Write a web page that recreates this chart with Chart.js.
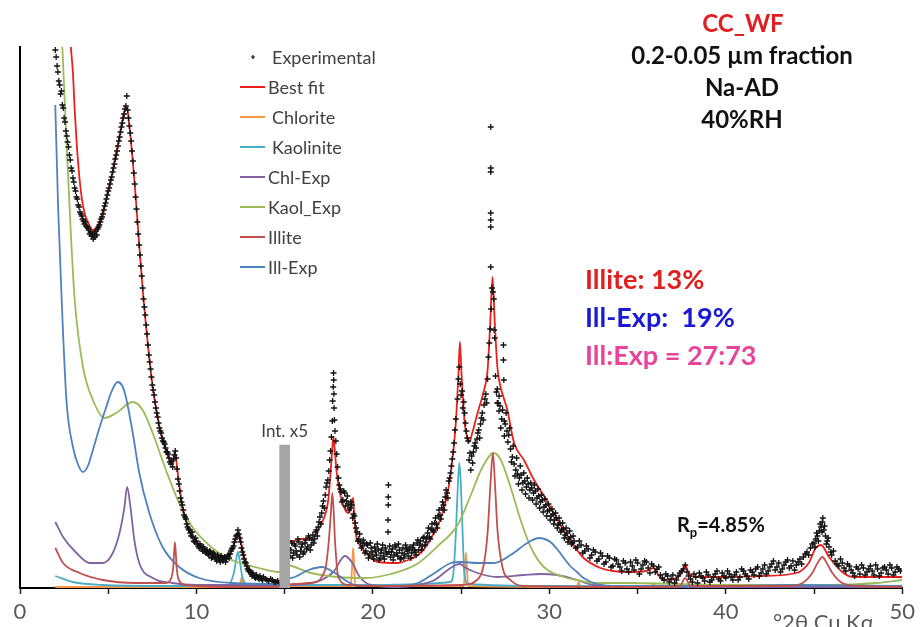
<!DOCTYPE html>
<html>
<head>
<meta charset="utf-8">
<script src="https://cdn.jsdelivr.net/npm/chart.js@4.4.1/dist/chart.umd.min.js"></script>
<style>
  html, body { margin: 0; padding: 0; background: #fff; }
  canvas { display: block; }
</style>
</head>
<body>
<canvas id="xrd"></canvas>
<script>
// [°2θ, intensity] (arbitrary units, part right of 15° is shown x5)
const experimental = [
  [2.00,538],[2.05,531],[2.10,522],[2.15,516],[2.20,507],[2.25,503],[2.30,494],[2.35,497],[2.40,483],[2.45,480],
  [2.50,470],[2.55,466],[2.60,457],[2.65,452],[2.70,446],[2.75,441],[2.80,433],[2.85,428],[2.90,420],[2.95,417],
  [3.00,410],[3.05,406],[3.10,400],[3.15,397],[3.20,391],[3.25,389],[3.30,383],[3.35,381],[3.40,376],[3.50,372],
  [3.60,367],[3.70,366],[3.80,361],[3.90,358],[4.00,356],[4.05,352],[4.10,354],[4.15,349],[4.20,355],[4.25,351],
  [4.30,357],[4.40,359],[4.50,363],[4.60,369],[4.70,374],[4.80,382],[4.90,389],[5.00,397],[5.10,404],[5.20,411],
  [5.30,420],[5.40,429],[5.50,437],[5.60,447],[5.70,456],[5.80,465],[5.90,474],[6.00,482],[6.05,492],[6.10,478],
  [6.15,470],[6.20,462],[6.30,447],[6.40,427],[6.50,404],[6.60,379],[6.70,354],[6.80,333],[6.90,312],[7.00,289],
  [7.10,273],[7.20,254],[7.30,233],[7.40,219],[7.50,203],[7.60,193],[7.70,180],[7.80,171],[7.90,160],[8.00,155],
  [8.10,147],[8.20,144],[8.30,136],[8.40,134],[8.50,126],[8.55,124],[8.60,127],[8.65,121],[8.70,129],[8.75,133],
  [8.80,137],[8.85,130],[8.90,119],[8.95,109],[9.00,104],[9.10,90],[9.20,83],[9.30,73],[9.40,69],[9.50,61],
  [9.60,58],[9.70,52],[9.80,51],[9.90,46],[10.0,47],[10.1,42],[10.2,44],[10.3,39],[10.4,41],[10.5,36],
  [10.6,38],[10.7,33],[10.8,36],[10.9,31],[11.0,34],[11.1,29],[11.2,33],[11.3,28],[11.4,32],[11.5,27],
  [11.6,31],[11.7,29],[11.8,33],[11.9,34],[12.0,39],[12.1,42],[12.2,49],[12.3,53],[12.35,58],[12.4,54],
  [12.45,50],[12.5,46],[12.55,40],[12.6,36],[12.7,29],[12.8,25],[12.9,19],[13.0,18],[13.1,14],[13.2,15],
  [13.3,11],[13.4,13],[13.5,10],[13.6,12],[13.7,9],[13.8,11],[14.0,8],[14.2,9],[14.4,6],[14.6,7],[14.8,5],
  [15.2,40],[15.3,32],[15.4,45],[15.5,35],[15.6,42],[15.7,33],[15.8,46],[15.9,37],[16.0,44],[16.1,36],
  [16.2,48],[16.3,41],[16.4,50],[16.5,43],[16.6,53],[16.7,49],[16.8,58],[16.9,61],[17.0,71],[17.1,75],
  [17.2,87],[17.3,93],[17.4,105],[17.5,117],[17.6,137],[17.65,151],[17.7,167],[17.72,187],[17.75,201],[17.77,215],
  [17.78,208],[17.79,194],[17.8,180],[17.82,168],[17.85,157],[17.9,147],[17.95,134],[18.0,121],[18.1,103],[18.2,96],
  [18.3,88],[18.4,95],[18.5,87],[18.6,84],[18.7,80],[18.8,83],[18.9,74],[19.0,65],[19.1,56],[19.2,49],
  [19.3,46],[19.4,42],[19.5,45],[19.6,37],[19.7,43],[19.8,34],[19.9,40],[20.0,32],[20.1,41],[20.2,33],
  [20.3,39],[20.4,30],[20.5,38],[20.6,32],[20.7,40],[20.8,34],[20.86,56],[20.86,68],[20.87,83],[20.87,91],
  [20.88,103],[20.9,36],[21.0,31],[21.1,39],[21.2,33],[21.3,41],[21.4,32],[21.5,38],[21.6,30],[21.7,40],
  [21.8,34],[21.9,39],[22.0,32],[22.1,41],[22.2,35],[22.3,43],[22.4,36],[22.5,45],[22.6,38],[22.7,47],
  [22.8,42],[22.9,51],[23.0,46],[23.1,55],[23.2,51],[23.3,59],[23.4,58],[23.5,65],[23.6,64],[23.7,72],
  [23.8,73],[23.9,80],[24.0,83],[24.1,91],[24.2,95],[24.3,107],[24.4,115],[24.5,129],[24.6,145],[24.7,169],
  [24.8,189],[24.85,209],[24.9,221],[24.95,204],[25.0,193],[25.05,197],[25.1,180],[25.2,175],[25.3,157],[25.4,147],
  [25.5,135],[25.55,118],[25.6,132],[25.7,136],[25.8,145],[25.9,149],[26.0,158],[26.1,164],[26.2,175],[26.3,183],
  [26.4,194],[26.5,209],[26.55,231],[26.6,245],[26.65,259],[26.68,321],[26.68,361],[26.68,368],[26.68,375],[26.68,416],
  [26.68,420],[26.68,461],[26.7,279],[26.75,300],[26.8,296],[26.85,289],[26.87,258],[26.9,250],[26.95,212],[27.0,196],
  [27.05,199],[27.1,185],[27.15,177],[27.2,182],[27.3,169],[27.4,243],[27.4,228],[27.42,208],[27.45,167],[27.5,164],
  [27.6,157],[27.7,153],[27.8,139],[27.9,131],[28.0,124],[28.1,118],[28.2,114],[28.3,110],[28.4,113],[28.5,105],
  [28.6,107],[28.7,101],[28.8,104],[28.9,98],[29.0,100],[29.1,95],[29.2,97],[29.3,90],[29.4,92],[29.5,86],
  [29.6,88],[29.7,81],[29.8,83],[29.9,77],[30.0,78],[30.1,72],[30.2,74],[30.3,68],[30.4,70],[30.5,63],
  [30.6,65],[30.7,58],[30.8,59],[30.9,53],[31.0,55],[31.1,49],[31.2,51],[31.3,45],[31.4,47],[31.6,41],
  [31.8,43],[32.0,37],[32.2,39],[32.4,33],[32.6,36],[32.8,29],[33.0,32],[33.2,26],[33.4,30],[33.6,22],
  [33.8,28],[34.0,21],[34.2,27],[34.4,19],[34.6,26],[34.8,18],[35.0,25],[35.2,19],[35.4,27],[35.6,20],
  [35.8,24],[36.0,16],[36.2,21],[36.4,10],[36.6,14],[36.8,6],[37.0,13],[37.2,8],[37.4,15],[37.6,19],
  [37.7,23],[37.8,16],[38.0,9],[38.2,14],[38.4,5],[38.6,12],[38.8,7],[39.0,13],[39.2,8],[39.4,14],
  [39.6,9],[39.8,15],[40.0,10],[40.2,14],[40.4,8],[40.6,16],[40.8,11],[41.0,17],[41.2,12],[41.4,18],
  [41.6,13],[41.8,21],[42.0,15],[42.2,23],[42.4,17],[42.6,24],[42.8,18],[43.0,25],[43.2,19],[43.4,26],
  [43.6,20],[43.8,27],[44.0,23],[44.2,29],[44.4,31],[44.6,36],[44.8,40],[45.0,45],[45.1,49],[45.2,52],
  [45.3,57],[45.4,61],[45.47,66],[45.55,58],[45.65,52],[45.75,47],[45.85,41],[46.0,33],[46.2,27],[46.4,22],
  [46.6,25],[46.8,17],[47.0,22],[47.2,15],[47.4,21],[47.6,14],[47.8,20],[48.0,16],[48.2,22],[48.4,13],
  [48.6,19],[48.8,15],[49.0,21],[49.2,14],[49.4,20],[49.6,16],[49.8,19]
];

// in-between readings of the same scan (the band of scatter around the trace)
const experimentalBand = [
  [3.45,374],[3.55,369],[3.65,364],[3.75,362],[3.85,360],[3.95,354],[4.35,353],[4.45,361],[4.55,366],[4.65,371],
  [4.75,378],[4.85,385],[4.95,393],[5.05,400],[5.15,408],[5.25,416],[5.35,424],[5.45,433],[5.55,442],[5.65,451],
  [5.75,461],[5.85,470],[5.95,479],[6.25,455],[6.35,437],[6.45,415],[6.55,391],[6.65,366],[6.75,343],[6.85,322],
  [6.95,300],[7.05,281],[7.15,263],[7.25,243],[7.35,226],[7.45,211],[7.55,198],[7.65,186],[7.75,175],[7.85,165],
  [7.95,157],[8.05,150],[8.15,146],[8.25,140],[8.35,136],[8.45,130],[9.05,97],[9.15,86],[9.25,78],[9.35,71],
  [9.45,64],[9.55,59],[9.65,55],[9.75,56],[9.85,47],[9.95,50],[10.05,44],[10.15,40],[10.25,42],[10.35,37],
  [10.45,39],[10.55,35],[10.65,34],[10.75,37],[10.85,30],[10.95,35],[11.05,31],[11.15,27],[11.25,31],[11.35,26],
  [11.45,30],[11.55,29],[11.65,26],[11.75,32],[11.85,30],[11.95,37],[12.05,40],[12.15,46],[12.25,52],[12.65,33],
  [12.75,26],[12.85,22],[12.95,17],[13.05,16],[13.15,12],[13.25,13],[13.35,10],[13.45,11],[13.55,9],[13.65,10],
  [13.75,8],[13.9,9],[14.1,7],[14.3,8],[14.5,6],[14.7,5],
  [15.25,47],[15.35,38],[15.45,30],[15.55,44],[15.65,37],[15.75,49],[15.85,31],[15.95,41],[16.05,34],[16.15,45],
  [16.25,39],[16.35,52],[16.45,38],[16.55,48],[16.65,45],[16.75,56],[16.85,52],[16.95,66],[17.05,64],[17.15,82],
  [17.25,80],[17.35,101],[17.45,108],[17.55,128],[18.05,110],[18.15,99],[18.25,86],[18.35,97],[18.45,82],[18.55,92],
  [18.65,78],[18.75,86],[18.85,70],[18.95,72],[19.05,60],[19.15,47],[19.25,54],[19.35,40],[19.45,48],[19.55,35],
  [19.65,44],[19.75,30],[19.85,45],[19.95,36],[20.05,29],[20.15,37],[20.25,44],[20.35,28],[20.45,35],[20.55,43],
  [20.65,29],[20.75,36],[20.95,42],[21.05,36],[21.15,28],[21.25,43],[21.35,35],[21.45,44],[21.55,29],[21.65,35],
  [21.75,30],[21.85,43],[21.95,37],[22.05,38],[22.15,30],[22.25,40],[22.35,38],[22.45,33],[22.55,48],[22.65,43],
  [22.75,38],[22.85,50],[22.95,43],[23.05,50],[23.15,60],[23.25,49],[23.35,64],[23.45,56],[23.55,70],[23.65,60],
  [23.75,78],[23.85,69],[23.95,86],[24.05,78],[24.15,98],[24.25,90],[24.35,110],[24.45,122],[24.55,136],[24.65,158],
  [25.15,186],[25.25,165],[25.35,150],[25.45,128],[25.65,125],[25.75,142],[25.85,140],[25.95,155],[26.05,150],[26.15,170],
  [26.25,168],[26.35,189],[26.45,185],[27.05,185],[27.15,192],[27.25,160],[27.35,178],[27.45,152],[27.55,175],[27.65,146],
  [27.75,160],[27.85,126],[27.95,142],[28.05,112],[28.15,130],[28.25,104],[28.35,122],[28.45,98],[28.55,115],[28.65,94],
  [28.75,110],[28.85,90],[28.95,105],[29.05,88],[29.15,103],[29.25,84],[29.35,99],[29.45,80],[29.55,93],[29.65,76],
  [29.75,89],[29.85,72],[29.95,84],[30.05,68],[30.15,79],[30.25,64],[30.35,75],[30.45,60],[30.55,70],[30.65,56],
  [30.75,65],[30.85,50],[30.95,60],[31.05,46],[31.15,57],[31.25,44],[31.35,52],[31.5,40],[31.7,47],[31.9,35],
  [32.1,42],[32.3,30],[32.5,38],[32.7,27],[32.9,35],[33.1,24],[33.3,32],[33.5,21],[33.7,29],[33.9,24],
  [34.1,17],[34.3,25],[34.5,16],[34.7,22],[34.9,28],[35.1,14],[35.3,23],[35.5,26],[35.7,15],[35.9,22],
  [36.1,19],[36.3,13],[36.5,8],[36.7,12],[36.9,9],[37.1,5],[37.3,12],[37.5,17],[37.9,12],[38.1,6],
  [38.3,11],[38.5,15],[38.7,10],[38.9,16],[39.1,6],[39.3,11],[39.5,17],[39.7,7],[39.9,12],[40.1,17],
  [40.3,11],[40.5,13],[40.7,8],[40.9,19],[41.1,14],[41.3,9],[41.5,16],[41.7,19],[41.9,12],[42.1,19],
  [42.3,14],[42.5,21],[42.7,27],[42.9,21],[43.1,16],[43.3,23],[43.5,28],[43.7,22],[43.9,18],[44.1,26],
  [44.3,24],[44.5,34],[44.7,33],[44.9,44],[45.05,41],[45.15,55],[45.25,47],[45.35,64],[45.45,56],[45.5,70],
  [45.6,62],[45.7,44],[45.8,50],[45.95,36],[46.1,37],[46.3,24],[46.5,29],[46.7,20],[46.9,24],[47.1,18],
  [47.3,12],[47.5,19],[47.7,23],[47.9,13],[48.1,19],[48.3,17],[48.5,23],[48.7,12],[48.9,20],[49.1,18],
  [49.3,23],[49.5,13],[49.7,21],[49.9,17]
];

const bestFit = [
  [2.88,541],[3.0,515],[3.1,478],[3.2,448],[3.38,408],[3.5,390],[3.66,375],[3.9,364],[4.13,358],[4.5,366],
  [5.0,397],[5.5,439],[5.9,475],[6.05,481],[6.2,462],[6.5,404],[6.8,333],[7.0,289],[7.5,204],[8.0,154],
  [8.5,127],[8.65,124],[8.72,130],[8.78,136],[8.84,130],[8.92,118],[9.2,82],[9.6,57],[10.2,43],[11.0,34],
  [11.7,31],[12.0,37],[12.2,47],[12.38,56],[12.55,44],[12.8,25],[13.2,14],[14.0,9],[14.95,7],
  [15.05,45],[15.5,47],[16.0,49],[16.53,50],[17.1,65],[17.47,88],[17.6,115],[17.7,140],[17.76,151],[17.83,140],
  [17.95,115],[18.23,88],[18.6,75],[18.75,80],[18.82,88],[18.88,90],[18.95,70],[19.0,58],[19.35,41],[19.9,30],
  [20.3,26],[21.4,25],[22.0,28],[22.7,35],[23.3,50],[24.05,81],[24.43,117],[24.7,165],[24.85,215],[24.93,246],
  [25.02,215],[25.2,165],[25.35,150],[25.46,146],[25.6,153],[25.93,175],[26.3,198],[26.5,218],[26.65,265],[26.78,311],
  [26.9,268],[27.05,222],[27.15,208],[27.62,178],[28.0,145],[28.56,128],[29.13,108],[29.7,92],[30.25,75],[30.8,58],
  [31.4,42],[31.94,30],[32.9,20],[33.6,17],[34.4,16],[35.5,17],[35.9,20],[36.1,15],[36.45,8],[37.2,10],
  [37.5,15],[37.7,23],[37.9,15],[38.3,11],[40.0,11],[42.0,12],[44.0,15],[44.7,25],[45.1,40],[45.4,43],
  [45.85,31],[46.6,16],[47.2,11],[50.0,11]
];

const chlorite = [
  [2.0,1],[12.4,1],[12.5,6],[12.55,10],[12.6,6],[12.7,1],[14.95,1],[15.05,2],[18.75,2],[18.83,25],
  [18.88,40],[18.93,25],[19.0,2],[25.15,2],[25.22,22],[25.27,35],[25.32,22],[25.4,2],[31.55,1],[31.66,6],
  [31.77,1],[35.75,1],[35.9,5],[36.05,1],[50.0,0]
];

const kaolinite = [
  [2.0,12],[3.0,6],[4.7,3],[8.0,2],[11.8,3],[12.12,15],[12.25,28],[12.35,36],[12.45,28],[12.6,11],
  [12.97,3],[14.95,2],[15.05,3],[20.0,3],[24.4,6],[24.58,18],[24.71,58],[24.82,105],[24.9,125],[24.98,105],
  [25.08,58],[25.18,15],[25.4,4],[30.0,2],[50.0,1]
];

const chlExp = [
  [2.0,66],[2.44,51],[3.2,35],[3.95,25],[4.7,25],[5.26,35],[5.64,55],[5.92,81],[6.07,101],[6.26,81],
  [6.48,48],[6.76,25],[7.52,10],[8.64,5],[10.0,3],[14.95,3],[15.05,3],[16.5,5],[17.1,8],[17.76,16],
  [18.42,32],[18.8,26],[19.26,11],[19.9,3],[21.4,1],[22.55,3],[23.5,8],[24.24,18],[24.7,23],[24.95,24],
  [25.18,21],[25.93,15],[27.06,11],[28.56,13],[29.5,14],[30.44,13],[31.19,10],[31.57,8],[32.5,3],[34.0,1],
  [50.0,1]
];

const kaolExp = [
  [2.40,541],[2.63,448],[2.9,348],[3.1,288],[3.57,221],[4.13,188],[4.79,170],[5.45,175],[6.39,186],[6.95,178],
  [7.52,155],[8.27,118],[9.02,85],[9.77,61],[10.9,40],[12.0,28],[13.53,20],[14.65,16],[14.95,16],
  [15.05,23],[16.5,15],[18.0,11],[19.6,10],[21.0,14],[22.5,24],[23.68,42],[24.8,63],[25.55,93],[26.1,117],
  [26.7,134],[26.85,135],[27.25,128],[27.8,101],[28.37,68],[28.94,41],[29.69,21],[30.82,11],[31.57,8],[32.5,5],
  [34.4,5],[40.0,3],[46.0,3],[48.5,5],[50.0,8]
];

const illite = [
  [2.0,40],[2.44,25],[3.38,15],[4.7,8],[6.6,5],[8.27,5],[8.55,9],[8.68,20],[8.78,46],[8.88,20],
  [9.0,8],[9.4,3],[10.0,2],[12.0,1],[14.95,1],[15.05,3],[16.5,5],[17.29,18],[17.47,41],[17.6,70],
  [17.7,95],[17.78,75],[17.85,48],[18.04,11],[18.6,3],[20.0,2],[25.0,3],[25.9,8],[26.3,25],[26.5,55],
  [26.65,100],[26.8,135],[26.93,100],[27.06,58],[27.34,21],[27.8,8],[28.5,2],[35.0,1],[37.4,2],[37.7,10],
  [38.0,2],[43.5,2],[44.35,5],[44.9,15],[45.2,25],[45.47,31],[45.75,24],[46.04,15],[46.6,5],[47.5,2],
  [50.0,1]
];

const illExp = [
  [2.0,483],[2.16,381],[2.37,285],[2.63,188],[3.0,141],[3.3,123],[3.57,116],[3.85,122],[4.13,138],[4.5,160],
  [4.89,181],[5.2,197],[5.54,206],[5.8,202],[6.0,191],[6.39,155],[6.76,115],[7.33,75],[8.08,41],[9.02,21],
  [10.15,10],[12.0,5],[14.95,4],[15.05,10],[15.3,10],[16.35,18],[17.1,21],[17.76,16],[18.42,8],[19.17,2],
  [21.4,2],[22.55,5],[23.5,15],[24.43,25],[25.0,26],[25.93,25],[26.87,25],[27.8,33],[28.75,45],[29.4,50],
  [30.06,46],[30.44,39],[30.82,30],[31.18,22],[31.57,16],[31.94,10],[32.7,4],[34.0,2],[40.0,2],[44.0,3],
  [50.0,2]
];

// grey bar where the intensity scale changes
const intBreak = [[15, 143]];

const seriesNames = ["Experimental", "Best fit", "Chlorite", "Kaolinite", "Chl-Exp", "Kaol_Exp", "Illite", "Ill-Exp"];
const seriesColors = ["#111111", "#e8211d", "#f79646", "#4bacc6", "#8064a2", "#9bbb59", "#c0504d", "#4f81bd"];
const xLabels = [0, 10, 20, 30, 40, 50];

function toXY(arr){
    return arr.map(p => ({x: p[0], y: p[1]}));
}

function lineSet(i, data, order){
    return {
        type: "line",
        label: seriesNames[i],
        data: toXY(data),
        borderColor: seriesColors[i],
        borderWidth: 1.8,
        pointRadius: 0,
        fill: false,
        cubicInterpolationMode: "monotone",
        order: order
    };
}

// legend + text labels drawn on top of the chart
const labelsPlugin = {
    id: "labels",
    afterDraw(chart){
        const ctx = chart.ctx;
        ctx.save();
        ctx.textBaseline = "middle";

        // legend
        ctx.font = "18px Lato";
        for(let i = 0; i < seriesNames.length; i++){
            const y = 57 + i * 30;
            if(i == 0){
                ctx.strokeStyle = seriesColors[0];
                ctx.lineWidth = 1.2;
                ctx.beginPath();
                ctx.moveTo(251, y); ctx.lineTo(255, y);
                ctx.moveTo(253, y - 2); ctx.lineTo(253, y + 2);
                ctx.stroke();
            } else {
                ctx.strokeStyle = seriesColors[i];
                ctx.lineWidth = 2;
                ctx.beginPath();
                ctx.moveTo(240, y); ctx.lineTo(265, y);
                ctx.stroke();
            }
            ctx.fillStyle = "#404040";
            ctx.textAlign = "left";
            ctx.fillText(seriesNames[i], (i == 0 || i == 2 || i == 3) ? 272 : 268, y + 1);
        }

        // sample info
        ctx.textAlign = "center";
        ctx.font = "bold 24px Lato";
        ctx.fillStyle = "#e02020";
        ctx.fillText("CC_WF", 743, 24);
        ctx.fillStyle = "#111";
        ctx.fillText("0.2-0.05 \u00b5m fraction", 742, 56);
        ctx.fillText("Na-AD", 742, 88);
        ctx.fillText("40%RH", 742, 120);

        // composition
        ctx.textAlign = "left";
        ctx.font = "bold 27px Lato";
        ctx.fillStyle = "#e21f1f";
        ctx.fillText("Illite: 13%", 585, 280);
        ctx.fillStyle = "#1a1ad6";
        ctx.fillText("Ill-Exp:  19%", 585, 318);
        ctx.fillStyle = "#e8449a";
        ctx.fillText("Ill:Exp = 27:73", 585, 356);

        // Rp
        ctx.fillStyle = "#111";
        ctx.font = "bold 20px Lato";
        ctx.fillText("R", 677, 526);
        const rw = ctx.measureText("R").width;
        ctx.font = "bold 13px Lato";
        ctx.fillText("p", 677 + rw, 533);
        const pw = ctx.measureText("p").width;
        ctx.font = "bold 20px Lato";
        ctx.fillText("=4.85%", 677 + rw + pw, 526);

        // intensity break label
        const xs = chart.scales.x, ys = chart.scales.y;
        ctx.font = "17px Lato";
        ctx.fillStyle = "#404040";
        ctx.textAlign = "center";
        ctx.fillText("Int. x5", xs.getPixelForValue(intBreak[0][0]), ys.getPixelForValue(intBreak[0][1]) - 13);

        // axis title, sits low and gets cut by the page edge
        ctx.font = "22px Lato";
        ctx.fillStyle = "#595959";
        ctx.textAlign = "left";
        ctx.textBaseline = "alphabetic";
        ctx.fillText("\u00b02\u03b8 Cu K\u03b1", 773, 630);
        ctx.restore();
    }
};

const canvas = document.getElementById("xrd");
canvas.width = 920;
canvas.height = 627;
const ctx = canvas.getContext("2d");

new Chart(ctx, {
    type: "line",
    data: {
        datasets: [
            {
                type: "bar",
                label: "Int. x5",
                data: toXY(intBreak),
                backgroundColor: "#a5a5a5",
                barThickness: 10,
                order: 0
            },
            {
                type: "line",
                label: seriesNames[0],
                data: toXY(experimental.concat(experimentalBand)),
                showLine: false,
                pointStyle: "cross",
                pointRadius: 3,
                pointBorderWidth: 1.3,
                pointBorderColor: seriesColors[0],
                order: 1
            },
            lineSet(1, bestFit, 2),
            lineSet(2, chlorite, 9),
            lineSet(3, kaolinite, 8),
            lineSet(4, chlExp, 7),
            lineSet(5, kaolExp, 6),
            lineSet(6, illite, 4),
            lineSet(7, illExp, 5)
        ]
    },
    options: {
        responsive: false,
        animation: false,
        layout: {padding: {top: 47, right: 13, left: 0, bottom: 0}},
        plugins: {legend: {display: false}, tooltip: {enabled: false}},
        scales: {
            x: {
                type: "linear",
                min: 0,
                max: 50,
                offset: false,
                border: {display: true, color: "#000", width: 2},
                grid: {display: true, offset: false, drawOnChartArea: false, drawTicks: true, tickLength: 6, tickWidth: 1.5, tickColor: "#222"},
                ticks: {
                    stepSize: 5,
                    autoSkip: false,
                    maxRotation: 0,
                    padding: 5,
                    color: "#595959",
                    font: {family: "Lato", size: 22},
                    callback: v => xLabels.includes(v) ? v : ""
                },
                afterFit: scale => { scale.height = 39; }
            },
            y: {
                min: 0,
                max: 541,
                border: {display: true, color: "#000", width: 2},
                grid: {display: false},
                ticks: {display: false},
                afterFit: scale => { scale.width = 20; }
            }
        }
    },
    plugins: [labelsPlugin]
});
</script>
</body>
</html>
